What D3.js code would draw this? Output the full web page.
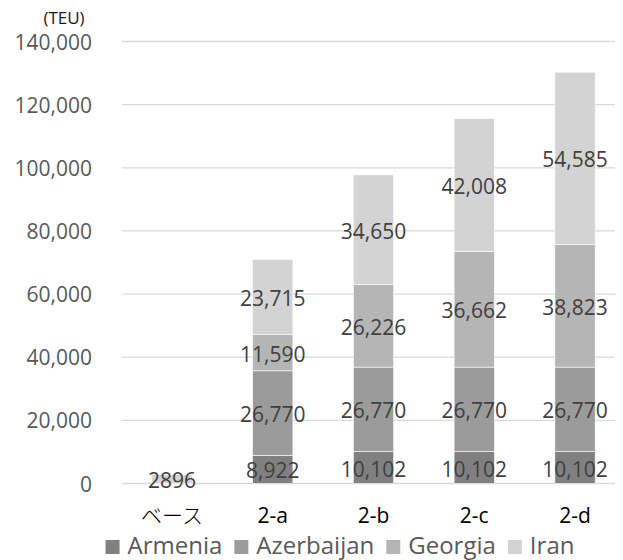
<!DOCTYPE html>
<html>
<head>
<meta charset="utf-8">
<script src="https://cdn.jsdelivr.net/npm/d3@7"></script>
<style>
  html, body { margin: 0; padding: 0; background: #fff; }
  svg { display: block; }
</style>
</head>
<body>
<svg id="chart" width="623" height="560"></svg>
<script>
const categories = ["ベース", "2-a", "2-b", "2-c", "2-d"];
const seriesNames = ["Armenia", "Azerbaijan", "Georgia", "Iran"];
const armenia    = [0, 8922, 10102, 10102, 10102];
const azerbaijan = [0, 26770, 26770, 26770, 26770];
const georgia    = [0, 11590, 26226, 36662, 38823];
const iran       = [2896, 23715, 34650, 42008, 54585];
const yTicks = [0, 20000, 40000, 60000, 80000, 100000, 120000, 140000];
const unitLabel = "(TEU)";

const colors = ["#808080", "#9b9b9b", "#b5b5b5", "#d3d3d3"];
const seriesValues = [armenia, azerbaijan, georgia, iran];

const rows = categories.map((c, i) => {
  const r = { cat: c };
  seriesNames.forEach((s, j) => r[s] = seriesValues[j][i]);
  return r;
});

const svg = d3.select("#chart");
const font = "'Open Sans', 'Noto Sans', sans-serif";

const x = d3.scaleBand().domain(categories).range([121.6, 625.4]).paddingInner(0.6).paddingOuter(0.3);
const y = d3.scaleLinear().domain([0, 140000]).range([483.5, 41.5]);

// gridlines
svg.append("g").selectAll("line").data(yTicks).join("line")
  .attr("x1", 122).attr("x2", 615)
  .attr("y1", d => y(d)).attr("y2", d => y(d))
  .attr("stroke", "#d9d9d9").attr("stroke-width", 1.3);

// y axis labels
const yAxis = d3.axisLeft(y).tickValues(yTicks).tickFormat(d3.format(",")).tickSize(0).tickPadding(0);
const ya = svg.append("g").attr("transform", "translate(92,0)").call(yAxis);
ya.select(".domain").remove();
ya.selectAll("text").attr("font-family", font).attr("font-size", 21).attr("fill", "#595959").attr("dy", "0.36em");

// unit label
svg.append("text").attr("x", 64).attr("y", 24).attr("text-anchor", "middle")
  .attr("font-family", font).attr("font-size", 17).attr("fill", "#1a1a1a").text(unitLabel);

// stacked bars
const stack = d3.stack().keys(seriesNames);
const stacked = stack(rows);

const g = svg.append("g");
stacked.forEach((layer, li) => {
  g.append("g").selectAll("rect").data(layer.filter(d => d[1] - d[0] > 0)).join("rect")
    .attr("x", d => x(d.data.cat))
    .attr("width", x.bandwidth())
    .attr("y", d => y(d[1]))
    .attr("height", d => y(d[0]) - y(d[1]))
    .attr("fill", colors[li])
    .attr("stroke", "#ffffff").attr("stroke-width", 0.6);
});

// data labels
const fmtComma = d3.format(",");
stacked.forEach((layer, li) => {
  g.append("g").selectAll("text").data(layer.filter(d => d[1] - d[0] > 0)).join("text")
    .attr("x", d => x(d.data.cat) + x.bandwidth() / 2)
    .attr("y", d => (y(d[0]) + y(d[1])) / 2 + 1.5)
    .attr("dy", "0.36em")
    .attr("text-anchor", "middle")
    .attr("font-family", font).attr("font-size", 21).attr("fill", "#404040")
    .text(d => d.data.cat === categories[0] ? String(d[1] - d[0]) : fmtComma(d[1] - d[0]));
});

// category labels
const xa = svg.append("g").attr("transform", "translate(0,523)")
  .call(d3.axisBottom(x).tickSize(0).tickPadding(0));
xa.select(".domain").remove();
xa.selectAll("text")
  .attr("dy", 0)
  .attr("font-family", d => d === categories[0] ? "'Noto Sans CJK JP', sans-serif" : font)
  .attr("font-size", d => d === categories[0] ? 21 : 21)
  .attr("font-weight", d => d === categories[0] ? 300 : 400)
  .attr("fill", "#000");

// legend
const legend = svg.append("g");
const items = legend.selectAll("g").data(seriesNames).join("g");
items.append("rect").attr("width", 14).attr("height", 14).attr("y", 540)
  .attr("fill", (d, i) => colors[i]);
items.append("text").attr("x", 22).attr("y", 554)
  .attr("font-family", font).attr("font-size", 24).attr("fill", "#595959").text(d => d);
let cx = 0;
const offsets = [];
items.each(function(d) {
  const w = d3.select(this).select("text").node().getComputedTextLength();
  offsets.push(cx);
  cx += 22 + w + 12;
});
const total = cx - 12;
const startX = 340 - total / 2;
items.attr("transform", (d, i) => `translate(${startX + offsets[i]},0)`);
</script>
</body>
</html>
